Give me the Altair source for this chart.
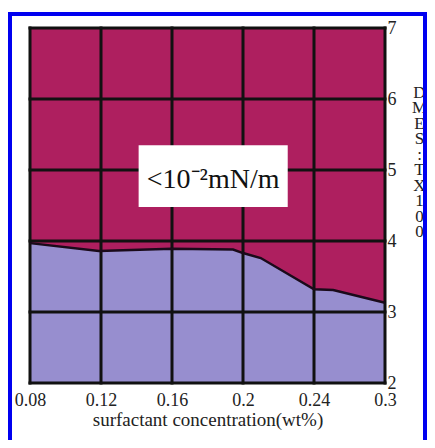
import altair as alt
import pandas as pd

# ---- data ----
x_labels = ["0.08", "0.12", "0.16", "0.2", "0.24", "0.3"]
x_ticks = [0, 1, 2, 3, 4, 5]          # equally spaced category positions
y_ticks = [2, 3, 4, 5, 6, 7]
y_min, y_max = 2, 7

# boundary between the two regions (x in category-position units)
boundary_x = [0.0, 0.97, 2.0, 2.86, 3.0, 3.25, 4.0, 4.27, 5.0]
boundary_y = [3.97, 3.86, 3.89, 3.88, 3.83, 3.76, 3.32, 3.31, 3.13]

# annotation box
box_x = [1.53]
box_x2 = [3.63]
box_y = [4.48]
box_y2 = [5.35]
note_text = ["<10⁻²mN/m"]
note_x = [2.58]
note_y = [4.86]

x_title = "surfactant concentration(wt%)"
y_title = list("DMES:TX100")

CRIMSON = "#AE1F5F"
LAVENDER = "#978ECF"
GRID = "#111111"
BLUE = "#0000F0"
FONT = "Liberation Serif"

bdf = pd.DataFrame({"x": boundary_x, "y": boundary_y})
xdf = pd.DataFrame({"x": x_ticks})
ydf = pd.DataFrame({"y": y_ticks})
boxdf = pd.DataFrame({"x": box_x, "x2": box_x2, "y": box_y, "y2": box_y2})
notedf = pd.DataFrame({"x": note_x, "y": note_y, "t": note_text})

xscale = alt.Scale(domain=[x_ticks[0], x_ticks[-1]], nice=False, zero=False)
yscale = alt.Scale(domain=[y_min, y_max], nice=False, zero=False)

label_expr = "[" + ",".join(f"'{l}'" for l in x_labels) + "][datum.value]"

x_axis = alt.Axis(
    values=x_ticks, labelExpr=label_expr, grid=False, ticks=False, tickSize=0,
    domain=False, labelFont=FONT, labelFontSize=18, labelColor="#222",
    labelFlush=False, labelOverlap=False, labelBaseline="alphabetic",
    labelPadding=22, title=x_title, titleFont=FONT, titleFontSize=19,
    titleFontWeight="normal", titleColor="#222", titleBaseline="alphabetic",
    titleY=42,
)
y_axis = alt.Axis(
    values=y_ticks, orient="right", grid=False, ticks=False, tickSize=0,
    domain=False, labelFont=FONT, labelFontSize=18, labelColor="#222",
    labelPadding=2, labelAlign="left", labelBaseline="middle",
    labelOverlap=False, labelFlush=False,
    title=y_title, titleAngle=0, titleFont=FONT, titleFontSize=17,
    titleFontWeight="normal", titleColor="#222", titleLineHeight=15.5,
    titleAlign="center", titleBaseline="middle", titleX=34, titleY=64,
)

X = alt.X("x:Q", scale=xscale, axis=x_axis, title=x_title)
Y = alt.Y("y:Q", scale=yscale, axis=y_axis, title=y_title)

top_area = alt.Chart(bdf).mark_area(color=CRIMSON, opacity=1).encode(
    x=X, y=Y, y2=alt.datum(y_max),
)
bottom_area = alt.Chart(bdf).mark_area(color=LAVENDER, opacity=1).encode(
    x=X, y=Y, y2=alt.datum(y_min),
)
vgrid = alt.Chart(xdf).mark_rule(color=GRID, strokeWidth=3, strokeCap="square").encode(
    x=X,
)
hgrid = alt.Chart(ydf).mark_rule(color=GRID, strokeWidth=3, strokeCap="square").encode(
    y=Y,
)
line = alt.Chart(bdf).mark_line(color="#1a0a1a", strokeWidth=2.5).encode(
    x=X, y=Y,
)
box = alt.Chart(boxdf).mark_rect(color="white").encode(
    x=X, x2="x2:Q", y=Y, y2="y2:Q",
)
note = alt.Chart(notedf).mark_text(font=FONT, fontSize=28, color="#111",
                                    align="center", baseline="middle").encode(
    x=X, y=Y, text="t:N",
)
# decorative blue frame around the figure
frame_left = alt.Chart(xdf.head(1)).mark_rule(color=BLUE, strokeWidth=4).encode(
    x=alt.value(-20), y=alt.value(-16), y2=alt.value(420),
)
frame_top = alt.Chart(xdf.head(1)).mark_rule(color=BLUE, strokeWidth=4).encode(
    x=alt.value(-22), x2=alt.value(400), y=alt.value(-14),
)
frame_right = alt.Chart(xdf.head(1)).mark_rule(color=BLUE, strokeWidth=4).encode(
    x=alt.value(395), y=alt.value(-16), y2=alt.value(420),
)

chart = alt.layer(top_area, bottom_area, vgrid, hgrid, line, box, note,
                  frame_left, frame_top, frame_right).properties(
    width=355, height=355, autosize="none",
    padding={"left": 22, "top": 20, "right": 42, "bottom": 57},
    background="white",
).configure_view(stroke=None)

chart.save("out.html", embed_options={"renderer": "svg", "actions": False})
